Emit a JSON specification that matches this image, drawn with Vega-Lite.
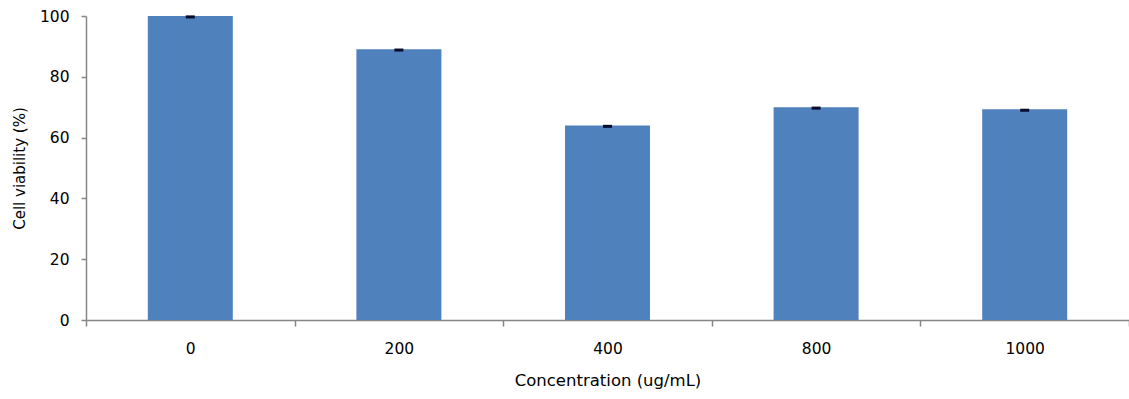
{
  "$schema": "https://vega.github.io/schema/vega-lite/v6.json",
  "autosize": "none",
  "width": 1043,
  "height": 304,
  "padding": {"left": 86, "top": 16, "right": 0, "bottom": 79},
  "background": "white",
  "config": {
    "view": {"stroke": null},
    "font": "DejaVu Sans"
  },
  "data": {
    "values": [
      {"conc": "0", "viability": 100, "lo": 99.2, "hi": 100.2},
      {"conc": "200", "viability": 89.1, "lo": 88.3, "hi": 89.3},
      {"conc": "400", "viability": 64.0, "lo": 63.2, "hi": 64.2},
      {"conc": "800", "viability": 70.0, "lo": 69.2, "hi": 70.2},
      {"conc": "1000", "viability": 69.3, "lo": 68.5, "hi": 69.5}
    ]
  },
  "encoding": {
    "x": {
      "field": "conc",
      "type": "nominal",
      "sort": null,
      "scale": {"paddingInner": 0, "paddingOuter": 0},
      "axis": {
        "title": "Concentration (ug/mL)",
        "titleFontSize": 16.5,
        "titleFontWeight": "normal",
        "titleColor": "#000000",
        "titlePadding": 16,
        "labelAngle": 0,
        "labelFontSize": 15.5,
        "labelFontWeight": "normal",
        "labelColor": "#000000",
        "labelPadding": 15,
        "tickBand": "extent",
        "tickSize": 6,
        "tickColor": "#868686",
        "domainColor": "#868686",
        "domainWidth": 1.5,
        "tickWidth": 1.5
      }
    }
  },
  "layer": [
    {
      "mark": {"type": "bar", "color": "#4f81bd", "width": 85},
      "encoding": {
        "y": {
          "field": "viability",
          "type": "quantitative",
          "scale": {"domain": [0, 100], "nice": false},
          "axis": {
            "title": "Cell viability (%)",
            "titleFontSize": 15,
            "titleFontWeight": "normal",
            "titleColor": "#000000",
            "titlePadding": 12,
            "values": [0, 20, 40, 60, 80, 100],
            "grid": false,
            "labelFontSize": 15.5,
            "labelFontWeight": "normal",
            "labelColor": "#000000",
            "labelPadding": 12,
            "tickSize": 5,
            "tickColor": "#868686",
            "domainColor": "#868686",
            "domainWidth": 1.5,
            "tickWidth": 1.5
          }
        }
      }
    },
    {
      "mark": {"type": "bar", "color": "#0b0b2e", "width": 9},
      "encoding": {
        "y": {"field": "lo", "type": "quantitative"},
        "y2": {"field": "hi"}
      }
    }
  ]
}
